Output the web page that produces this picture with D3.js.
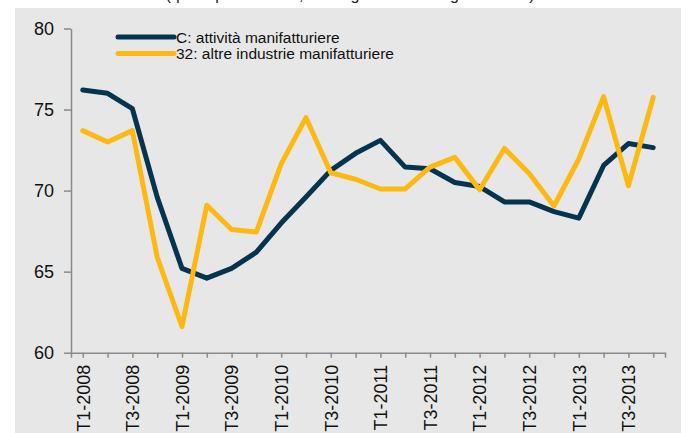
<!DOCTYPE html>
<html>
<head>
<meta charset="utf-8">
<script src="https://cdn.jsdelivr.net/npm/d3@7"></script>
<style>
  body { margin: 0; background: #fff; }
  text { font-family: "Liberation Sans", Arial, Helvetica, sans-serif; }
</style>
</head>
<body>
<div id="chart"></div>
<script>
// quarters T1-2008 .. T4-2013
var quarters = [];
for (var yr = 2008; yr <= 2013; yr++) {
  for (var q = 1; q <= 4; q++) quarters.push("T" + q + "-" + yr);
}

var seriesNames = ["C: attività manifatturiere", "32: altre industrie manifatturiere"];
var seriesColors = ["#06344f", "#fdb913"];

var manifatturiere = [76.2, 76.0, 75.05, 69.6, 65.2, 64.6, 65.2, 66.2, 68.0, 69.6, 71.25, 72.3,
                      73.1, 71.45, 71.35, 70.5, 70.25, 69.3, 69.3, 68.7, 68.3, 71.55, 72.9, 72.65];
var altreIndustrie = [73.7, 73.0, 73.7, 65.9, 61.6, 69.1, 67.6, 67.45, 71.65, 74.5, 71.1, 70.7,
                      70.1, 70.1, 71.45, 72.05, 70.05, 72.6, 71.05, 69.05, 71.95, 75.8, 70.3, 75.75];

var yTicks = [60, 65, 70, 75, 80];

var W = 691, H = 433;
var svg = d3.select("#chart").append("svg")
  .attr("width", W).attr("height", H);

// grey panel
svg.append("rect")
  .attr("x", 15).attr("y", 8)
  .attr("width", 666).attr("height", H - 8)
  .attr("fill", "#e7e7e7");

// title, cut off at the top like in the source image
svg.append("text")
  .attr("x", 350).attr("y", 0)
  .attr("text-anchor", "middle")
  .style("font-size", "16px")
  .attr("fill", "#222")
  .text("(quota percentuale, valori grezzi e destagionalizzati)");

var x = d3.scalePoint()
  .domain(quarters)
  .range([71, 665])
  .padding(0.475);

var y = d3.scaleLinear()
  .domain([60, 80])
  .range([352.7, 28.5]);

var axisColor = "#8a8a8a";

// x axis
var gx = svg.append("g")
  .attr("transform", "translate(0," + y(60) + ")")
  .call(d3.axisBottom(x)
    .tickSizeInner(5).tickSizeOuter(5).tickPadding(8)
    .tickFormat(function(d, i) { return i % 2 === 0 ? d : ""; }));
gx.select(".domain").attr("stroke", axisColor).attr("stroke-width", 1.5);
gx.selectAll(".tick line").attr("stroke", axisColor).attr("stroke-width", 1.5);
gx.selectAll(".tick text")
  .attr("transform", "rotate(-90)")
  .attr("text-anchor", "end")
  .attr("x", -12).attr("y", 0).attr("dy", "0.35em")
  .style("font-size", "18px")
  .attr("fill", "#111");

// y axis
var gy = svg.append("g")
  .attr("transform", "translate(71,0)")
  .call(d3.axisLeft(y).tickValues(yTicks)
    .tickSizeInner(7).tickSizeOuter(0).tickPadding(10));
gy.select(".domain").attr("stroke", axisColor).attr("stroke-width", 1.5);
gy.selectAll(".tick line").attr("stroke", axisColor).attr("stroke-width", 1.5);
gy.selectAll(".tick text")
  .style("font-size", "18px")
  .attr("fill", "#111");

var line = d3.line()
  .x(function(d, i) { return x(quarters[i]); })
  .y(function(d) { return y(d); });

var allSeries = [manifatturiere, altreIndustrie];
allSeries.forEach(function(s, k) {
  svg.append("path")
    .datum(s)
    .attr("d", line)
    .attr("fill", "none")
    .attr("stroke", seriesColors[k])
    .attr("stroke-width", 5)
    .attr("stroke-linejoin", "round")
    .attr("stroke-linecap", "round");
});

// legend
var leg = svg.append("g");
seriesNames.forEach(function(name, k) {
  var ly = 37 + k * 16.5;
  leg.append("line")
    .attr("x1", 118).attr("x2", 174)
    .attr("y1", ly).attr("y2", ly)
    .attr("stroke", seriesColors[k])
    .attr("stroke-width", 5)
    .attr("stroke-linecap", "round");
  leg.append("text")
    .attr("x", 176).attr("y", ly + 5.5)
    .style("font-size", "15.5px")
    .attr("fill", "#111")
    .text(name);
});
</script>
</body>
</html>
